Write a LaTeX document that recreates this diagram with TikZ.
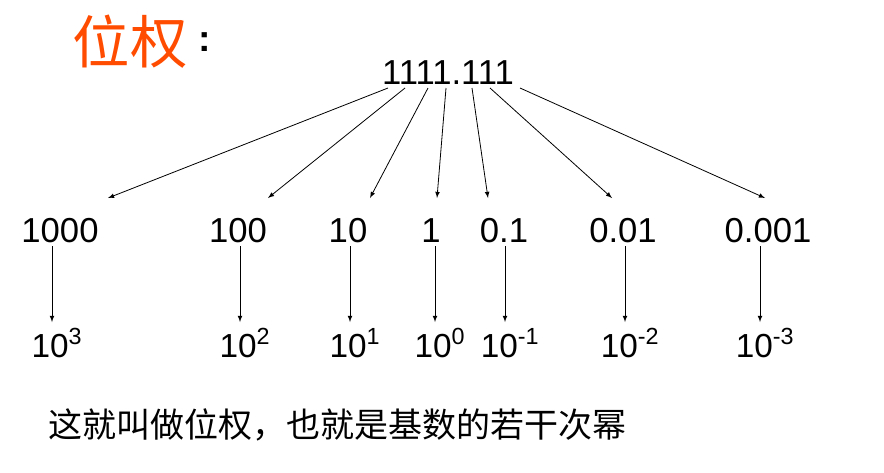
\documentclass[tikz,border=0pt]{standalone}
\usepackage{fontspec}
\setmainfont{Liberation Sans}
\newfontfamily\cjk{Noto Sans CJK SC}
\begin{document}
\begin{tikzpicture}[x=0.75pt,y=-0.75pt,
  num/.style={inner sep=0pt,font=\fontsize{26}{30}\selectfont},
  pw/.style={inner sep=0pt,font=\fontsize{25}{30}\selectfont,anchor=base},
  arr/.style={-latex,line width=0.6pt}]
\useasboundingbox[fill=white] (0,0) rectangle (884,472);
\node[inner sep=0pt,text=orange!60!red,font=\cjk\fontsize{43}{48}\selectfont] (t) at (130,42) {位权};
\node[inner sep=0pt,font=\bfseries\fontsize{28}{30}\selectfont,right=8pt] (c) at (t.east) {:};
\node[num] (top) at (448,73) {1111.111};
\foreach \n/\x/\s/\e/\l/\px/\pl in {a/60/388/108/1000/57/3, b/238/405/268/100/245/2, c2/348/428/370/10/355/1, d/431/446/437/1/440/0, e/504/472/488/0.1/510/-1, f/623/490/612/0.01/630/-2, g/768/520/765/0.001/765/-3}{
  \node[num] (n\n) at (\x,231) {\l};
  \coordinate (s\n) at (\s,88);
  \coordinate (e\n) at (\e,198);
  \draw[arr] (s\n) -- (e\n);
  \node[pw] (p\n) at (\px,357) {10\textsuperscript{\pl}};
  \coordinate (u\n) at (\px-5,246);
  \coordinate (v\n) at (\px-5,322);
  \draw[arr] (u\n) -- (v\n);
}
\node[inner sep=0pt,anchor=west,font=\cjk\fontsize{25.5}{28}\selectfont] (b) at (48,425) {这就叫做位权，也就是基数的若干次幂};
\end{tikzpicture}
\end{document}
